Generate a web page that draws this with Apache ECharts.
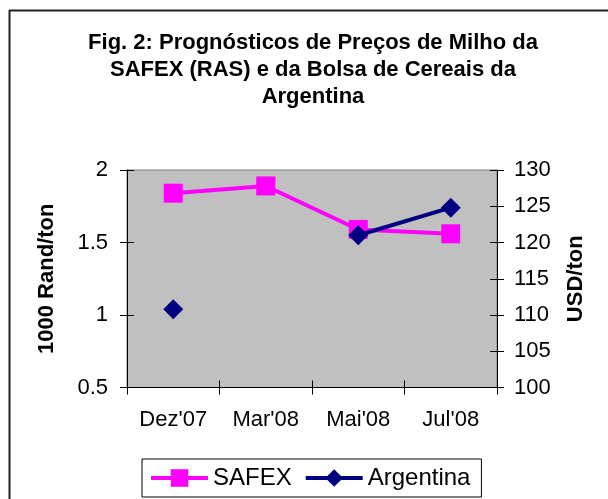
<!DOCTYPE html>
<html>
<head>
<meta charset="utf-8">
<script src="https://cdn.jsdelivr.net/npm/echarts@6/dist/echarts.min.js"></script>
<style>
html,body{margin:0;padding:0;background:#fff;}
#chart{width:608px;height:499px;}
</style>
</head>
<body>
<div id="chart"></div>
<script>
const titleText = "Fig. 2: Prognósticos de Preços de Milho da\nSAFEX (RAS) e da Bolsa de Cereais da\nArgentina";
const categories = ["Dez'07", "Mar'08", "Mai'08", "Jul'08"];
const safexValues = [1.84, 1.89, 1.59, 1.56];
const argentinaValues = [110.8, null, 121.0, 124.8];
const leftAxisName = "1000 Rand/ton";
const rightAxisName = "USD/ton";
const seriesNames = ["SAFEX", "Argentina"];

const FONT = "'Liberation Sans', Arial, sans-serif";
const chart = echarts.init(document.getElementById('chart'), null, {renderer: 'canvas'});

const gridCfg = {left: 127, right: 111, top: 170, bottom: 111.5};

const option = {
  backgroundColor: '#ffffff',
  animation: false,
  textStyle: {fontFamily: FONT},
  title: {
    text: titleText,
    left: 313,
    top: 29,
    padding: 0,
    textAlign: 'center',
    textStyle: {fontFamily: FONT, fontSize: 22, fontWeight: 'bold', color: '#000', lineHeight: 27}
  },
  graphic: [
    {type: 'line', shape: {x1: 9.5, y1: 10, x2: 9.5, y2: 499}, style: {stroke: '#222', lineWidth: 2}, silent: true},
    {type: 'line', shape: {x1: 9, y1: 10.5, x2: 608, y2: 10.5}, style: {stroke: '#222', lineWidth: 2}, silent: true}
  ],
  legend: {
    data: seriesNames,
    left: 142,
    top: 459,
    orient: 'horizontal',
    itemWidth: 57,
    itemHeight: 22,
    itemGap: 12,
    padding: [7, 11, 7, 7],
    borderColor: '#000',
    borderWidth: 1,
    borderRadius: 0,
    lineStyle: {width: 4},
    textStyle: {fontFamily: FONT, fontSize: 24, color: '#000'}
  },
  grid: Object.assign({show: true, backgroundColor: '#C0C0C0', borderColor: '#808080', borderWidth: 1}, gridCfg),
  xAxis: [
    {
      type: 'category',
      data: categories,
      boundaryGap: true,
      axisLine: {show: true, lineStyle: {color: '#000', width: 1}},
      axisTick: {show: true, alignWithLabel: false, length: 7, lineStyle: {color: '#000'}},
      axisLabel: {fontFamily: FONT, fontSize: 22, color: '#000', margin: 21},
      splitLine: {show: false}
    },
    {
      type: 'category',
      data: categories,
      position: 'bottom',
      boundaryGap: true,
      axisLine: {show: false},
      axisTick: {show: true, inside: true, length: 7, lineStyle: {color: '#000'}},
      axisLabel: {show: false},
      splitLine: {show: false}
    }
  ],
  yAxis: [
    {
      type: 'value',
      position: 'left',
      min: 0.5, max: 2, interval: 0.5,
      name: leftAxisName,
      nameLocation: 'middle',
      nameRotate: 90,
      nameGap: 69,
      nameTextStyle: {fontFamily: FONT, fontSize: 22, fontWeight: 'bold', color: '#000'},
      axisLine: {show: true, lineStyle: {color: '#000', width: 1}},
      axisTick: {show: true, length: 7, lineStyle: {color: '#000'}},
      axisLabel: {fontFamily: FONT, fontSize: 22, color: '#000', margin: 19},
      splitLine: {show: false}
    },
    {
      type: 'value',
      position: 'right',
      min: 100, max: 130, interval: 5,
      name: rightAxisName,
      nameLocation: 'middle',
      nameRotate: 90,
      nameGap: 68,
      nameTextStyle: {fontFamily: FONT, fontSize: 22, fontWeight: 'bold', color: '#000'},
      axisLine: {show: true, lineStyle: {color: '#000', width: 1}},
      axisTick: {show: true, length: 7, lineStyle: {color: '#000'}},
      axisLabel: {fontFamily: FONT, fontSize: 22, color: '#000', margin: 17},
      splitLine: {show: false}
    },
    {
      type: 'value',
      position: 'left',
      min: 0.5, max: 2, interval: 0.5,
      axisLine: {show: false},
      axisTick: {show: true, inside: true, length: 7, lineStyle: {color: '#000'}},
      axisLabel: {show: false},
      splitLine: {show: false}
    },
    {
      type: 'value',
      position: 'right',
      min: 100, max: 130, interval: 5,
      axisLine: {show: false},
      axisTick: {show: true, inside: true, length: 7, lineStyle: {color: '#000'}},
      axisLabel: {show: false},
      splitLine: {show: false}
    }
  ],
  series: [
    {
      name: seriesNames[0],
      type: 'line',
      xAxisIndex: 0,
      yAxisIndex: 0,
      data: safexValues,
      symbol: 'rect',
      symbolSize: 19,
      showAllSymbol: true,
      lineStyle: {color: '#FF00FF', width: 4},
      itemStyle: {color: '#FF00FF', borderWidth: 0},
      z: 3
    },
    {
      name: seriesNames[1],
      type: 'line',
      xAxisIndex: 0,
      yAxisIndex: 1,
      data: argentinaValues,
      connectNulls: false,
      symbol: 'diamond',
      symbolSize: 20,
      showAllSymbol: true,
      lineStyle: {color: '#000080', width: 4},
      itemStyle: {color: '#000080', borderWidth: 0},
      z: 4
    }
  ]
};
chart.setOption(option);
</script>
</body>
</html>
